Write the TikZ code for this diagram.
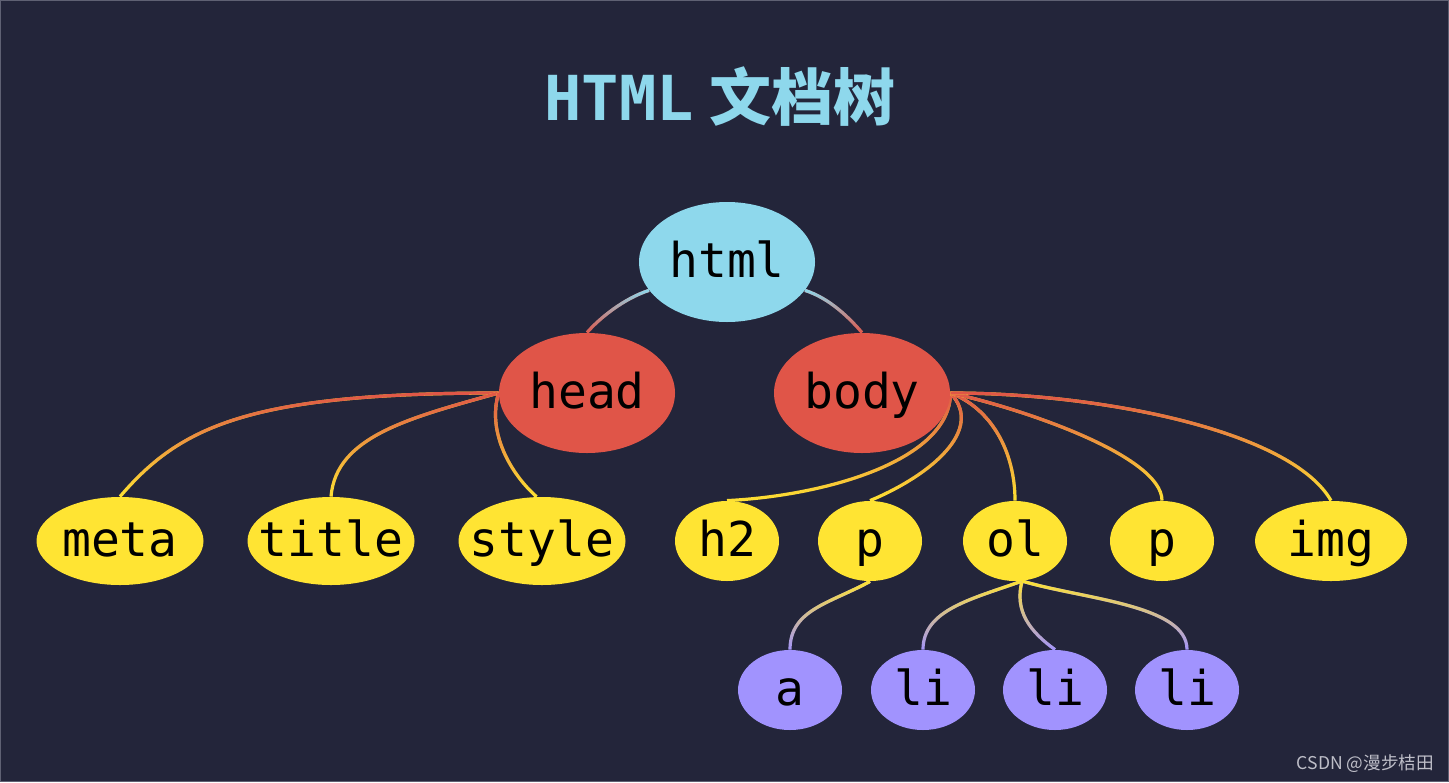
\documentclass[tikz,border=0pt]{standalone}
\usepackage{fontspec}
\setmonofont{DejaVu Sans Mono}
\newfontfamily\cjk{Noto Sans CJK SC}
\usetikzlibrary{shapes.geometric,fadings}
\definecolor{bgc}{RGB}{35,37,58}
\definecolor{cblue}{RGB}{142,216,236}
\definecolor{cred}{RGB}{224,85,72}
\definecolor{cyel}{RGB}{255,228,51}
\definecolor{cpur}{RGB}{161,147,254}
\definecolor{wmark}{RGB}{190,190,200}
\definecolor{framec}{RGB}{95,97,115}
\tikzfading[name=topfade, top color=transparent!0, bottom color=transparent!100]
\pgfdeclarelayer{edges}
\pgfsetlayers{edges,main}
\newcommand\gline[3]{\draw[link,#2] #3; \draw[link,#1,path fading=topfade] #3;}
\begin{document}
\begin{tikzpicture}[x=0.5pt,y=-0.5pt,
  nd/.style={ellipse, inner xsep=-12pt, inner ysep=0pt, text=black, text height=18pt, text depth=3pt,
    font=\ttfamily\fontsize{24}{24}\selectfont},
  lvzero/.style={nd, fill=cblue, minimum width=88pt, minimum height=60pt},
  lvone/.style={nd, fill=cred, minimum width=88pt, minimum height=60pt},
  lvtwo/.style={nd, fill=cyel, minimum width=83.5pt, minimum height=44pt},
  lvtwos/.style={nd, fill=cyel, minimum width=52pt, minimum height=40pt},
  lvtwow/.style={nd, fill=cyel, minimum width=76pt, minimum height=40pt},
  lvthree/.style={nd, fill=cpur, minimum width=52pt, minimum height=40pt},
  link/.style={line width=1.6pt},
]
\useasboundingbox (0,0) rectangle (1449,782);
% title
\node[anchor=base, text=cblue, font=\fontsize{31}{31}\selectfont] (ttl) at (720,120)
  {{\ttfamily\bfseries HTML}\hspace{0.25em}{\cjk\bfseries 文档树}};
% nodes
\node[lvzero] (html) at (727,262) {html};
\node[lvone] (head) at (587,393) {head};
\node[lvone] (body) at (862,393) {body};
\node[lvtwo] (meta) at (120,541) {meta};
\node[lvtwo] (title) at (331,541) {title};
\node[lvtwo] (style) at (542,541) {style};
\node[lvtwos] (h2) at (727,541) {h2};
\node[lvtwos] (p) at (870,541) {p};
\node[lvtwos] (ol) at (1015,541) {ol};
\node[lvtwos] (pB) at (1162,541) {p};
\node[lvtwow] (img) at (1331,541) {img};
\node[lvthree] (a) at (790,690) {a};
\node[lvthree] (li1) at (923,690) {li};
\node[lvthree] (li2) at (1055,690) {li};
\node[lvthree] (li3) at (1187,690) {li};
% watermark
\node[anchor=base east, text=wmark, font=\cjk\fontsize{8.8}{8.8}\selectfont] (wm) at (1441,769) {CSDN @漫步桔田};
\begin{pgfonlayer}{edges}
\fill[bgc] (0,0) rectangle (1449,782);
\draw[framec, line width=0.5pt] (0.5,0.5) rectangle (1448.5,781.5);
\gline{cblue}{cred}{(html.200) .. controls +(-25,8) and +(12,-14) .. (head.north)}
\gline{cblue}{cred}{(html.-20) .. controls +(25,8) and +(-12,-14) .. (body.north)}
\gline{cred}{cyel}{(head.west) .. controls +(-250,0) and +(60,-70) .. (meta.north)}
\gline{cred}{cyel}{(head.west) .. controls +(-90,25) and +(5,-60) .. (title.north)}
\gline{cred}{cyel}{(head.west) .. controls +(-12,40) and +(-25,-22) .. (style.97)}
\gline{cred}{cyel}{(body.east) .. controls +(0,67) and +(100,-5) .. (h2.north)}
\gline{cred}{cyel}{(body.east) .. controls +(35,37) and +(60,-25) .. (p.north)}
\gline{cred}{cyel}{(body.east) .. controls +(40,15) and +(0,-50) .. (ol.north)}
\gline{cred}{cyel}{(body.east) .. controls +(70,15) and +(0,-45) .. (pB.north)}
\gline{cred}{cyel}{(body.east) .. controls +(150,0) and +(-40,-70) .. (img.north)}
\gline{cyel}{cpur}{(p.south) .. controls +(-40,22) and +(0,-40) .. (a.north)}
\gline{cyel}{cpur}{(ol.-80) .. controls +(-50,18) and +(0,-40) .. (li1.north)}
\gline{cyel}{cpur}{(ol.-80) .. controls +(-8,30) and +(-25,-18) .. (li2.north)}
\gline{cyel}{cpur}{(ol.-80) .. controls +(60,18) and +(0,-45) .. (li3.north)}
\end{pgfonlayer}
\end{tikzpicture}
\end{document}
